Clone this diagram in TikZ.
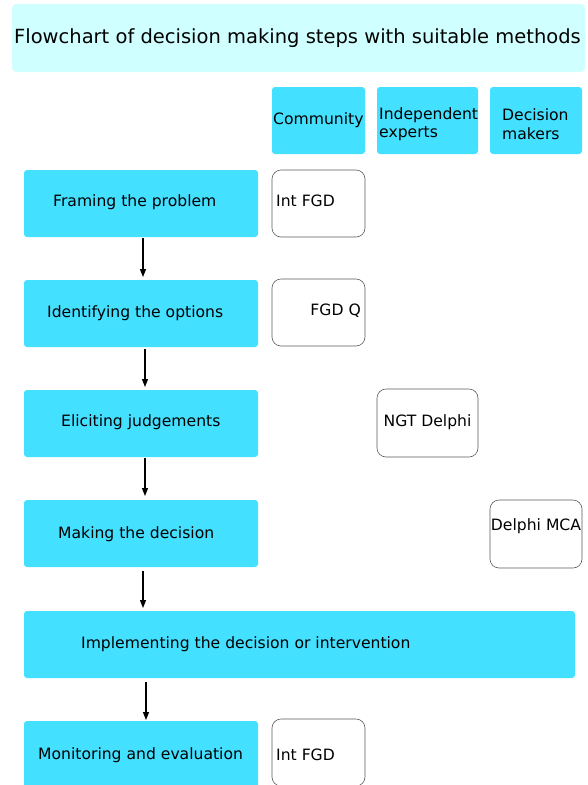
\documentclass[tikz,border=0pt]{standalone}
\usepackage{fontspec}
\setmainfont{DejaVu Sans}
\usetikzlibrary{arrows.meta}
\definecolor{stepcyan}{RGB}{68,224,255}
\definecolor{titlecyan}{RGB}{208,255,255}
\definecolor{methodgray}{RGB}{90,90,90}
\tikzset{
  stepbox/.style={fill=stepcyan, draw=none, rounded corners=3pt, inner sep=0pt},
  titlebox/.style={fill=titlecyan, draw=none, rounded corners=4pt, inner sep=0pt},
  methodbox/.style={fill=white, draw=methodgray, line width=0.6pt, rounded corners=9pt, inner sep=0pt},
  txt/.style={inner sep=0pt, font=\fontsize{15.6}{18.5}\selectfont, anchor=west},
  flow/.style={-{Triangle[length=8pt,width=6pt]}, line width=1.2pt, black}
}
\begin{document}
\begin{tikzpicture}[x=1pt,y=-1pt]
\useasboundingbox (0,0) rectangle (587,785);
% title
\node[titlebox, minimum width=573, minimum height=68] (title) at (298.5,38) {};
\node[inner sep=0pt, font=\fontsize{19.5}{22}\selectfont] (titletext) at (297.5,38) {Flowchart of decision making steps with suitable methods};
% headers
\node[stepbox, minimum width=93, minimum height=67] (hc) at (318.5,120.5) {};
\node[txt] (hct) at (273,120.5) {Community};
\node[stepbox, minimum width=101, minimum height=67] (hi) at (427.5,120.5) {};
\node[txt, align=left] (hit) at (379,124) {Independent\\experts};
\node[stepbox, minimum width=92, minimum height=67] (hd) at (536,120.5) {};
\node[txt, align=left] (hdt) at (502,124) {Decision\\makers};
% steps
\node[stepbox, minimum width=234, minimum height=67] (s1) at (141,203.5) {};
\node[txt] (s1t) at (53,202.5) {Framing the problem};
\node[stepbox, minimum width=234, minimum height=67] (s2) at (141,313.5) {};
\node[txt] (s2t) at (47,313.5) {Identifying the options};
\node[stepbox, minimum width=234, minimum height=67] (s3) at (141,423.5) {};
\node[txt] (s3t) at (61,422.5) {Eliciting judgements};
\node[stepbox, minimum width=234, minimum height=67] (s4) at (141,533.5) {};
\node[txt] (s4t) at (58,534.5) {Making the decision};
\node[stepbox, minimum width=551, minimum height=67] (s5) at (299.5,644.5) {};
\node[txt] (s5t) at (81,644.5) {Implementing the decision or intervention};
\node[stepbox, minimum width=234, minimum height=67] (s6) at (141,754.5) {};
\node[txt] (s6t) at (38,755.5) {Monitoring and evaluation};
% methods
\node[methodbox, minimum width=93, minimum height=67] (m1) at (318.5,203.5) {};
\node[txt] (m1t) at (276,200.5) {Int FGD};
\node[methodbox, minimum width=93, minimum height=67] (m2) at (318.5,312.5) {};
\node[txt, anchor=east] (m2t) at (361,310.5) {FGD Q};
\node[methodbox, minimum width=101, minimum height=68] (m3) at (427.5,423) {};
\node[txt, anchor=center] (m3t) at (427.5,422.5) {NGT Delphi};
\node[methodbox, minimum width=92, minimum height=68] (m4) at (536,534) {};
\node[txt, anchor=center] (m4t) at (536,526.5) {Delphi MCA};
\node[methodbox, minimum width=93, minimum height=67] (m5) at (318.5,752.5) {};
\node[txt] (m5t) at (276,754.5) {Int FGD};
% arrows
\coordinate (a1s) at (143,238); \coordinate (a1e) at (143,277);
\coordinate (a2s) at (145,349); \coordinate (a2e) at (145,387);
\coordinate (a3s) at (145,458); \coordinate (a3e) at (145,496);
\coordinate (a4s) at (143,571); \coordinate (a4e) at (143,608);
\coordinate (a5s) at (146,682); \coordinate (a5e) at (146,720);
\draw[flow] (a1s) -- (a1e);
\draw[flow] (a2s) -- (a2e);
\draw[flow] (a3s) -- (a3e);
\draw[flow] (a4s) -- (a4e);
\draw[flow] (a5s) -- (a5e);
\end{tikzpicture}
\end{document}
